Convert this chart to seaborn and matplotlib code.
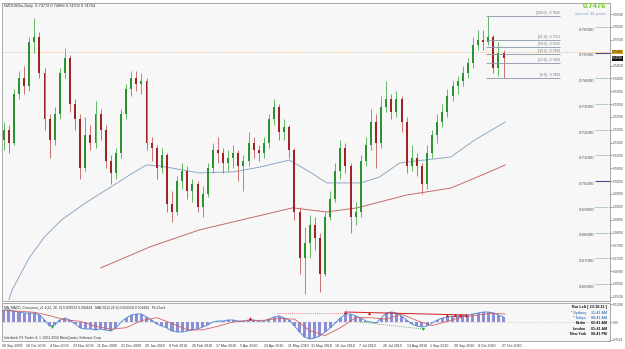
import numpy as np
import pandas as pd
import matplotlib
matplotlib.use("Agg")
import matplotlib.pyplot as plt
import seaborn as sns

# ---------------- data (3-day candles, day index = 3*i+1 from 28 Sep 2009) ----------------
opens = [0.7160, 0.7200, 0.7150, 0.7340, 0.7400, 0.7370, 0.7540, 0.7560, 0.7420, 0.7240,
         0.7160, 0.7260, 0.7420, 0.7480, 0.7300, 0.7240, 0.7050, 0.7180, 0.7150, 0.7260,
         0.7200, 0.7080, 0.7030, 0.7110, 0.7260, 0.7360, 0.7400, 0.7380, 0.7390, 0.7150,
         0.7130, 0.7050, 0.7100, 0.6910, 0.6880, 0.7000, 0.7040, 0.6960, 0.6990, 0.6900,
         0.6950, 0.7050, 0.7120, 0.7110, 0.7070, 0.7090, 0.7110, 0.7060, 0.7080, 0.7150,
         0.7120, 0.7110, 0.7150, 0.7240, 0.7290, 0.7190, 0.7210, 0.7120, 0.6880, 0.6700,
         0.6760, 0.6830, 0.6780, 0.6640, 0.6860, 0.6930, 0.7040, 0.7130, 0.7060, 0.6860,
         0.6880, 0.7080, 0.7140, 0.7230, 0.7150, 0.7290, 0.7320, 0.7270, 0.7320, 0.7230,
         0.7060, 0.7090, 0.7060, 0.6990, 0.7110, 0.7180, 0.7230, 0.7270, 0.7330, 0.7370,
         0.7390, 0.7420, 0.7460, 0.7530, 0.7550, 0.7540, 0.7560, 0.7440, 0.7500]
highs = [0.7230, 0.7220, 0.7360, 0.7430, 0.7450, 0.7560, 0.7635, 0.7580, 0.7440, 0.7260,
         0.7290, 0.7440, 0.7520, 0.7490, 0.7320, 0.7260, 0.7250, 0.7220, 0.7310, 0.7280,
         0.7220, 0.7100, 0.7130, 0.7280, 0.7380, 0.7430, 0.7430, 0.7420, 0.7400, 0.7170,
         0.7140, 0.7130, 0.7110, 0.6960, 0.7020, 0.7070, 0.7060, 0.7010, 0.7000, 0.6980,
         0.7070, 0.7150, 0.7170, 0.7130, 0.7120, 0.7140, 0.7120, 0.7100, 0.7190, 0.7170,
         0.7140, 0.7170, 0.7260, 0.7320, 0.7300, 0.7240, 0.7220, 0.7130, 0.6900, 0.6820,
         0.6870, 0.6860, 0.6800, 0.6880, 0.6960, 0.7070, 0.7160, 0.7150, 0.7070, 0.6920,
         0.7100, 0.7170, 0.7280, 0.7260, 0.7330, 0.7390, 0.7340, 0.7350, 0.7330, 0.7250,
         0.7140, 0.7110, 0.7070, 0.7140, 0.7200, 0.7260, 0.7300, 0.7360, 0.7390, 0.7410,
         0.7450, 0.7480, 0.7560, 0.7590, 0.7590, 0.7642, 0.7570, 0.7540, 0.7510]
lows = [0.7120, 0.7110, 0.7140, 0.7320, 0.7340, 0.7350, 0.7500, 0.7400, 0.7200, 0.7090,
        0.7140, 0.7240, 0.7400, 0.7270, 0.7200, 0.7010, 0.7040, 0.7120, 0.7130, 0.7160,
        0.7050, 0.6990, 0.7010, 0.7090, 0.7240, 0.7330, 0.7350, 0.7340, 0.7120, 0.7080,
        0.7010, 0.7030, 0.6880, 0.6840, 0.6870, 0.6970, 0.6930, 0.6920, 0.6880, 0.6860,
        0.6940, 0.7030, 0.7070, 0.7030, 0.7040, 0.7050, 0.7000, 0.6960, 0.7060, 0.7090,
        0.7080, 0.7090, 0.7130, 0.7220, 0.7160, 0.7160, 0.7090, 0.6850, 0.6640, 0.6560,
        0.6700, 0.6730, 0.6570, 0.6630, 0.6850, 0.6920, 0.7010, 0.7030, 0.6800, 0.6830,
        0.6860, 0.7060, 0.7120, 0.7050, 0.7130, 0.7270, 0.7240, 0.7250, 0.7190, 0.7030,
        0.7040, 0.7020, 0.6950, 0.6970, 0.7090, 0.7150, 0.7210, 0.7250, 0.7310, 0.7340,
        0.7370, 0.7400, 0.7440, 0.7510, 0.7510, 0.7530, 0.7420, 0.7410, 0.7403]
closes = [0.7200, 0.7150, 0.7340, 0.7400, 0.7370, 0.7540, 0.7560, 0.7420, 0.7240, 0.7160,
          0.7260, 0.7420, 0.7480, 0.7300, 0.7240, 0.7050, 0.7180, 0.7150, 0.7260, 0.7200,
          0.7080, 0.7030, 0.7110, 0.7260, 0.7360, 0.7400, 0.7380, 0.7390, 0.7150, 0.7130,
          0.7050, 0.7100, 0.6910, 0.6880, 0.7000, 0.7040, 0.6960, 0.6990, 0.6900, 0.6950,
          0.7050, 0.7120, 0.7110, 0.7070, 0.7090, 0.7110, 0.7060, 0.7080, 0.7150, 0.7120,
          0.7110, 0.7150, 0.7240, 0.7290, 0.7190, 0.7210, 0.7120, 0.6880, 0.6700, 0.6760,
          0.6830, 0.6780, 0.6640, 0.6860, 0.6930, 0.7040, 0.7130, 0.7060, 0.6860, 0.6880,
          0.7080, 0.7140, 0.7230, 0.7150, 0.7290, 0.7320, 0.7270, 0.7320, 0.7230, 0.7060,
          0.7090, 0.7060, 0.6990, 0.7110, 0.7180, 0.7230, 0.7270, 0.7330, 0.7370, 0.7390,
          0.7420, 0.7460, 0.7530, 0.7550, 0.7540, 0.7560, 0.7440, 0.7500, 0.7478]

# moving averages (day index, price)
ma_blue_days = [4, 6, 16, 25, 35, 49, 64, 75, 85, 93, 116, 136, 152, 169, 181, 191, 211, 222, 234, 264, 278, 296]
ma_blue_vals = [0.6538, 0.6577, 0.6701, 0.6783, 0.6849, 0.6915, 0.6977, 0.7024, 0.7063, 0.7059, 0.7032,
                0.7036, 0.7055, 0.7082, 0.7036, 0.6993, 0.6993, 0.7016, 0.7071, 0.7094, 0.7160, 0.7230]
ma_red_days = [58, 87, 116, 146, 171, 191, 209, 238, 264, 281, 296]
ma_red_vals = [0.6662, 0.6744, 0.6810, 0.6857, 0.6896, 0.6880, 0.6896, 0.6946, 0.6973, 0.7020, 0.7063]

# MACD histogram per candle
macd_hist = [0.0084, 0.0084, 0.0077, 0.0070, 0.0063, 0.0063, 0.0063, 0.0049, 0.0014, -0.0028,
             -0.0021, 0.0014, 0.0028, 0.0014, -0.0014, -0.0042, -0.0049, -0.0049, -0.0056, -0.0049,
             -0.0056, -0.0063, -0.0042, 0.0000, 0.0028, 0.0049, 0.0056, 0.0056, 0.0035, 0.0014,
             -0.0014, -0.0028, -0.0042, -0.0063, -0.0070, -0.0070, -0.0063, -0.0056, -0.0049, -0.0035,
             -0.0021, 0.0000, 0.0007, 0.0007, 0.0014, 0.0014, 0.0007, 0.0007, 0.0014, 0.0014,
             0.0007, 0.0007, 0.0021, 0.0035, 0.0042, 0.0028, 0.0014, -0.0028, -0.0070, -0.0105,
             -0.0119, -0.0112, -0.0098, -0.0070, -0.0042, -0.0007, 0.0028, 0.0056, 0.0056, 0.0042,
             0.0028, 0.0007, 0.0000, -0.0007, 0.0028, 0.0063, 0.0070, 0.0063, 0.0042, 0.0014,
             -0.0014, -0.0028, -0.0035, -0.0028, -0.0007, 0.0014, 0.0028, 0.0035, 0.0042, 0.0042,
             0.0049, 0.0049, 0.0056, 0.0063, 0.0070, 0.0070, 0.0063, 0.0049, 0.0035]
signal_days = [1, 10, 19, 28, 37, 46, 55, 64, 73, 82, 91, 100, 109, 118, 127, 136, 145, 154, 163,
               172, 181, 190, 199, 208, 217, 226, 235, 244, 253, 262, 271, 280, 289, 296]
signal_vals = [0.0080, 0.0075, 0.0068, 0.0045, 0.0015, 0.0005, -0.0030, -0.0050, -0.0040, 0.0010,
               0.0030, -0.0010, -0.0055, -0.0055, -0.0030, 0.0000, 0.0010, 0.0012, 0.0025, 0.0020,
               -0.0060, -0.0095, -0.0040, 0.0030, 0.0030, 0.0020, 0.0055, 0.0010, -0.0025, 0.0005,
               0.0035, 0.0050, 0.0062, 0.0055]

date_labels = ["28 Sep 2009", "16 Oct 2009", "4 Nov 2009", "23 Nov 2009", "11 Dec 2009", "31 Dec 2009",
               "20 Jan 2010", "8 Feb 2010", "26 Feb 2010", "17 Mar 2010", "5 Apr 2010", "23 Apr 2010",
               "11 May 2010", "31 May 2010", "18 Jun 2010", "7 Jul 2010", "26 Jul 2010", "13 Aug 2010",
               "1 Sep 2010", "20 Sep 2010", "8 Oct 2010", "27 Oct 2010"]

fib_levels = [100.0, 61.8, 50.0, 38.2, 23.6, 0.0]
fib_prices = [0.7642, 0.7551, 0.7522, 0.7494, 0.7459, 0.7403]
level_prices = [0.76, 0.75, 0.74, 0.73, 0.72, 0.71, 0.70, 0.69, 0.68, 0.67, 0.66]

# ---------------- figure ----------------
sns.set_theme(style="white")
plt.rcParams['font.family'] = ['Liberation Sans', 'DejaVu Sans']

W, H = 625, 349
fig = plt.figure(figsize=(6.25, 3.49), dpi=100, facecolor='white')
BG = '#f7f7f7'

def fx(px):
    return px / W

def fy(py):
    return 1 - py / H

ax = fig.add_axes([fx(2), fy(301), fx(610) - fx(2), fy(3) - fy(301)])
axm = fig.add_axes([fx(2), fy(341), fx(610) - fx(2), fy(303) - fy(341)], sharex=ax)
for a in (ax, axm):
    a.set_facecolor(BG)
    for s in a.spines.values():
        s.set_color('#9a9a9a')
        s.set_linewidth(0.6)

XMAX = 357.6
YLO, YHI = 0.65334, 0.76934
ax.set_xlim(0, XMAX)
ax.set_ylim(YLO, YHI)

days = [3 * i + 1 for i in range(len(closes))]
df = pd.DataFrame({'day': days, 'open': opens, 'high': highs, 'low': lows, 'close': closes})
df['up'] = df['close'] >= df['open']

# wicks
for up, wick_col in ((True, '#62b562'), (False, '#c77272')):
    sub = df[df['up'] == up]
    ax.vlines(sub['day'], sub['low'], sub['high'], color=wick_col, linewidth=0.7, zorder=3)
# bodies
for up, body_col in ((True, '#2a9430'), (False, '#a02222')):
    sub = df[df['up'] == up]
    h = (sub['close'] - sub['open']).abs().clip(lower=0.0004)
    b = np.minimum(sub['open'], sub['close'])
    ax.bar(sub['day'], h, bottom=b, width=1.15, color=body_col, linewidth=0, zorder=4)

# moving averages
sns.lineplot(x=ma_blue_days, y=ma_blue_vals, ax=ax, color='#8fa9c4', linewidth=0.7, zorder=2)
sns.lineplot(x=ma_red_days, y=ma_red_vals, ax=ax, color='#c46a6a', linewidth=0.7, zorder=2)

# bid/ask line
ax.axhline(0.7503, color='#e8b060', linewidth=0.6, linestyle=(0, (1, 1.5)), zorder=1)

# Fibonacci
fib_x0 = (486 - 2) / 1.7
fib_x1 = (560 - 2) / 1.7
for lv, pr in zip(fib_levels, fib_prices):
    ax.hlines(pr, fib_x0, fib_x1, color='#8894a8', linewidth=0.6, zorder=5)
    ax.text(fib_x1, pr + 0.0004, f"[{lv:.1f}] - {pr:.4f}", fontsize=2.4, color='#6e7580',
            ha='right', va='bottom', zorder=6)

# level labels on the right
lvl_x_text = (595 - 2) / 1.7
for pr in level_prices:
    solid = pr in (0.75, 0.70)
    if solid:
        ax.hlines(pr, lvl_x_text, XMAX, color='#4a4a8c', linewidth=0.8, zorder=5)
    else:
        ax.hlines(pr, lvl_x_text, XMAX, color='#5aa05a', linewidth=0.6, linestyle=(0, (1, 1)), zorder=5)
    ax.text(lvl_x_text - 0.5, pr - 0.0003, f"{pr:.5f}", fontsize=3.2, color='#555555',
            ha='right', va='top', zorder=6)

# header & price info
ax.text(0.004, 0.995, "NZDUSDm,Daily  0.74772 0.74866 0.74702 0.74764", transform=ax.transAxes,
        fontsize=2.8, color='#333333', ha='left', va='top')
fig.text(fx(606), fy(7), "0.7476", fontsize=5.5, color='#6ccf1c', fontweight='bold', ha='right', va='center')
fig.text(fx(606), fy(14.5), "Spread: 44 points", fontsize=2.9, color='#8aa2c8', ha='right', va='center')

# right axis
yt = np.round(np.arange(0.655, 0.7675, 0.005), 3)
ax.yaxis.tick_right()
ax.set_yticks(yt)
ax.set_yticklabels(["" if abs(v - 0.75) < 1e-6 else f"{v:.5f}" for v in yt])
ax.tick_params(axis='y', labelsize=2.15, length=1.2, width=0.4, pad=0.6, colors='#444444')
ax.tick_params(axis='x', bottom=False, labelbottom=False)

# current price boxes
for pr, fc, tc in ((0.7503, '#d9a520', '#222222'), (0.7478, '#111111', '#ffffff')):
    ax.text(1.0035, (pr - YLO) / (YHI - YLO), f"{pr:.5f}", transform=ax.transAxes,
            fontsize=2.15, color=tc, ha='left', va='center', clip_on=False,
            bbox=dict(boxstyle='square,pad=0.1', fc=fc, ec='none'))

# ---------------- MACD panel ----------------
axm.set_ylim(-0.0133, 0.0133)
axm.bar(days, macd_hist, width=1.8, color='#8e8ed6', linewidth=0, zorder=2)
sns.lineplot(x=days, y=macd_hist, ax=axm, color='#5b8fd8', linewidth=0.7, zorder=3)
sns.lineplot(x=signal_days, y=signal_vals, ax=axm, color='#d46060', linewidth=0.6, zorder=4)
axm.axhline(0, color='#bbbbbb', linewidth=0.5, linestyle=(0, (1, 1.5)), zorder=1)

# divergence lines & arrows
axm.plot([(277 - 2) / 1.7, (345 - 2) / 1.7], [0.0063, 0.0063], color='#e06060', linewidth=0.6,
         linestyle=(0, (1, 1.5)), zorder=5)
axm.plot([(345 - 2) / 1.7, (467 - 2) / 1.7], [0.0070, 0.0049], color='#cc2222', linewidth=0.7, zorder=5)
axm.plot([(360 - 2) / 1.7, (423 - 2) / 1.7], [0.0000, -0.0049], color='#3aa03a', linewidth=0.6,
         linestyle=(0, (1, 1.5)), zorder=5)
red_mark_x = [(p - 2) / 1.7 for p in (250, 345, 369, 447, 455, 460, 466)]
red_mark_y = [0.0028, 0.0070, 0.0063, 0.0049, 0.0049, 0.0049, 0.0049]
axm.scatter(red_mark_x, red_mark_y, marker='^', s=5, color='#dd1111', linewidths=0, zorder=6)
grn_mark_x = [(p - 2) / 1.7 for p in (52, 423)]
grn_mark_y = [-0.0035, -0.0049]
axm.scatter(grn_mark_x, grn_mark_y, marker='v', s=5, color='#22aa22', linewidths=0, zorder=6)

axm.text(0.004, 0.93, "MA_MACD_Crossover_v1.1(12, 26, 9) 0.002523 0.004444   MACD(12,26,9) 0.002524 0.004444   Pk-Clock",
         transform=axm.transAxes, fontsize=2.4, color='#333333', ha='left', va='top')
axm.text(0.004, 0.03, "Interbank FX Trader 4, \u00a9 2001-2010 MetaQuotes Software Corp.",
         transform=axm.transAxes, fontsize=2.4, color='#333333', ha='left', va='bottom')

axm.yaxis.tick_right()
axm.set_yticks([0.0125, 0.0, -0.0125])
axm.set_yticklabels(["0.01298", "0.00", "-0.0124"])
axm.tick_params(axis='y', labelsize=2.15, length=1.2, width=0.4, pad=0.6, colors='#444444')

axm.set_xticks([14 * k for k in range(len(date_labels))])
axm.set_xticklabels(date_labels)
for lab in axm.get_xticklabels():
    lab.set_horizontalalignment('left')
axm.tick_params(axis='x', labelsize=2.6, length=1.5, width=0.4, pad=1, colors='#333333')

# clock block
names = ["* Sydney", "* Tokyo", "Berlin", "London", "New York"]
times = ["11:41 AM", "08:41 AM", "02:41 AM", "01:41 AM", "08:41 PM"]
name_cols = ['#4a7cc0', '#4a7cc0', '#111111', '#111111', '#111111']
fig.text(fx(607), fy(307), "Bar Left [ 23:18:11 ]", fontsize=2.7, fontweight='bold', color='#111111',
         ha='right', va='center')
for k, (nm, tm, c) in enumerate(zip(names, times, name_cols)):
    yy = fy(313 + 5.2 * k)
    fig.text(fx(586), yy, nm, fontsize=2.6, fontweight='bold', color=c, ha='right', va='center')
    fig.text(fx(607), yy, tm, fontsize=2.6, fontweight='bold', color=c, ha='right', va='center')

ax.set_xlabel('')
ax.set_ylabel('')
axm.set_xlabel('')
axm.set_ylabel('')

fig.savefig("out.png", dpi=100, facecolor='white')
